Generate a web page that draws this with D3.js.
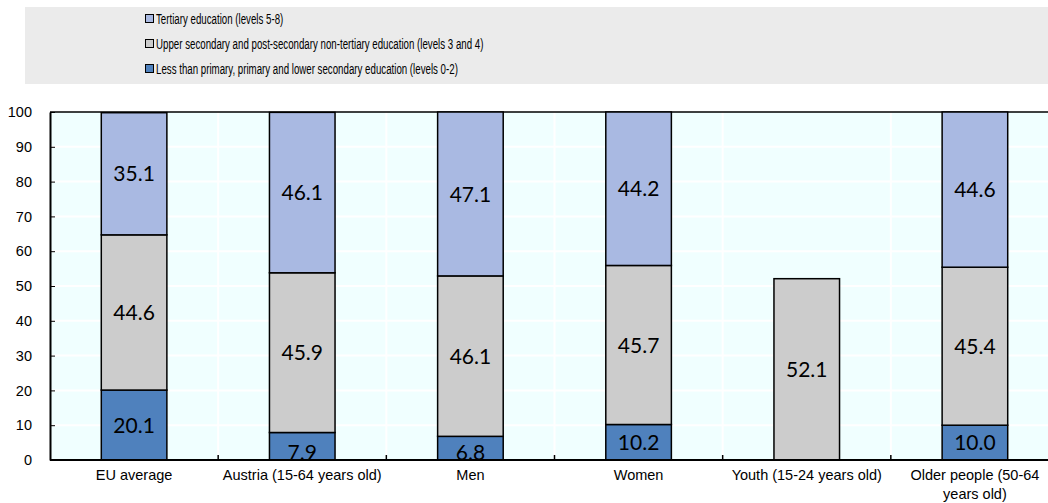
<!DOCTYPE html>
<html>
<head>
<meta charset="utf-8">
<script src="https://cdn.jsdelivr.net/npm/d3@7"></script>
<style>
  body { margin: 0; background: #fff; overflow: hidden; }
  .narrow { font-family: "Liberation Sans Narrow", "Arial Narrow", "Liberation Sans", sans-serif; }
</style>
</head>
<body>
<div id="chart"></div>
<script>
const categories = ['EU average', 'Austria (15-64 years old)', 'Men', 'Women', 'Youth (15-24 years old)', 'Older people (50-64 years old)']
const lowerSecondary = [20.1, 7.9, 6.8, 10.2, null, 10.0]
const upperSecondary = [44.6, 45.9, 46.1, 45.7, 52.1, 45.4]
const tertiary = [35.1, 46.1, 47.1, 44.2, null, 44.6]
const seriesNames = [
  'Tertiary education (levels 5-8)',
  'Upper secondary and post-secondary non-tertiary education (levels 3 and 4)',
  'Less than primary, primary and lower secondary education (levels 0-2)'
]
const yTicks = [0, 10, 20, 30, 40, 50, 60, 70, 80, 90, 100]

const colors = { lower: '#4F81BD', upper: '#CCCCCC', tertiary: '#A9B9E2' }

const width = 1048
const height = 503
const margin = { top: 112, left: 50, right: -11, bottom: 43 }
const plotW = width - margin.left - margin.right
const plotH = height - margin.top - margin.bottom

const svg = d3.select('#chart')
  .append('svg')
  .attr('width', width)
  .attr('height', height)

// legend box
svg.append('rect')
  .attr('x', 25).attr('y', 7)
  .attr('width', width - 25).attr('height', 77)
  .attr('fill', '#EBEBEB')

const legendColors = [colors.tertiary, colors.upper, colors.lower]
seriesNames.forEach((name, i) => {
  const ly = 19 + i * 25
  svg.append('rect')
    .attr('x', 145.5).attr('y', ly - 4.5)
    .attr('width', 8).attr('height', 8)
    .attr('fill', legendColors[i])
    .attr('stroke', '#000').attr('stroke-width', 1)
  svg.append('text')
    .attr('class', 'narrow')
    .attr('transform', 'translate(156,' + ly + ') scale(0.67,1)')
    .attr('dy', '0.35em')
    .attr('font-size', 14.5)
    .attr('fill', '#000')
    .text(name)
})

const g = svg.append('g')
  .attr('transform', 'translate(' + margin.left + ',' + margin.top + ')')

const x = d3.scaleBand()
  .domain(categories)
  .range([0, plotW])
  .paddingInner(0)

const y = d3.scaleLinear()
  .domain([0, 100])
  .range([plotH, 0])

g.append('rect')
  .attr('width', plotW).attr('height', plotH)
  .attr('fill', '#F0FFFF')

// gridlines
g.selectAll('.hgrid')
  .data(yTicks.slice(1, -1))
  .enter()
  .append('line')
  .attr('x1', 0).attr('x2', plotW)
  .attr('y1', d => y(d)).attr('y2', d => y(d))
  .attr('stroke', '#fff').attr('stroke-width', 2)

g.selectAll('.vgrid')
  .data(categories.slice(1))
  .enter()
  .append('line')
  .attr('x1', d => x(d)).attr('x2', d => x(d))
  .attr('y1', 0).attr('y2', plotH)
  .attr('stroke', '#fff').attr('stroke-width', 2)

// top border
g.append('line')
  .attr('x1', 0).attr('x2', plotW)
  .attr('y1', 0).attr('y2', 0)
  .attr('stroke', '#000').attr('stroke-width', 1.5)

const barW = x.bandwidth() * 0.39
const segments = categories.map((c, i) => {
  const segs = []
  let base = 0
  const parts = [
    { v: lowerSecondary[i], color: colors.lower },
    { v: upperSecondary[i], color: colors.upper },
    { v: tertiary[i], color: colors.tertiary }
  ]
  parts.forEach(p => {
    if (p.v != null) {
      segs.push({ cat: c, y0: base, y1: base + p.v, v: p.v, color: p.color })
      base += p.v
    }
  })
  return segs
}).flat()

g.selectAll('.seg')
  .data(segments)
  .enter()
  .append('rect')
  .attr('x', d => x(d.cat) + (x.bandwidth() - barW) / 2)
  .attr('y', d => y(Math.min(d.y1, 100)))
  .attr('width', barW)
  .attr('height', d => y(d.y0) - y(Math.min(d.y1, 100)))
  .attr('fill', d => d.color)
  .attr('stroke', '#000')
  .attr('stroke-width', 1.5)

g.selectAll('.lbl')
  .data(segments)
  .enter()
  .append('text')
  .attr('x', d => x(d.cat) + x.bandwidth() / 2)
  .attr('y', d => {
    const mid = y((d.y0 + Math.min(d.y1, 100)) / 2)
    return d.v < 9 ? y(d.y0) + 2 : mid
  })
  .attr('dy', d => d.v < 9 ? '-0.1em' : '0.36em')
  .attr('text-anchor', 'middle')
  .attr('font-family', 'Lato, "Open Sans", sans-serif')
  .attr('font-size', 21)
  .attr('fill', '#000')
  .text(d => d3.format('.1f')(d.v))

// y axis
const yAxis = d3.axisLeft(y)
  .tickValues(yTicks)
  .tickSizeInner(-5)
  .tickSizeOuter(0)
  .tickPadding(18)

g.append('g')
  .attr('class', 'axis y-axis narrow')
  .call(yAxis)
  .call(s => s.selectAll('text').attr('font-size', 14.5).attr('fill', '#000'))
  .call(s => s.selectAll('line').attr('stroke', '#000'))
  .call(s => s.select('.domain').attr('stroke', '#000').attr('stroke-width', 2))
  .attr('font-family', null)

// x axis
g.append('line')
  .attr('x1', 0).attr('x2', plotW)
  .attr('y1', plotH).attr('y2', plotH)
  .attr('stroke', '#000').attr('stroke-width', 2)

g.selectAll('.xtick')
  .data(categories.slice(1))
  .enter()
  .append('line')
  .attr('x1', d => x(d)).attr('x2', d => x(d))
  .attr('y1', plotH).attr('y2', plotH - 5)
  .attr('stroke', '#000').attr('stroke-width', 1.5)

const xLabels = g.selectAll('.xlab')
  .data(categories)
  .enter()
  .append('text')
  .attr('class', 'narrow')
  .attr('text-anchor', 'middle')
  .attr('font-size', 14.5)
  .attr('fill', '#000')
  .attr('x', d => x(d) + x.bandwidth() / 2)
  .attr('y', plotH + 20)

xLabels.each(function(d) {
  const t = d3.select(this)
  if (d === 'Older people (50-64 years old)') {
    t.append('tspan').attr('x', x(d) + x.bandwidth() / 2).text('Older people (50-64')
    t.append('tspan').attr('x', x(d) + x.bandwidth() / 2).attr('dy', 19).text('years old)')
  } else {
    t.text(d)
  }
})
</script>
</body>
</html>
